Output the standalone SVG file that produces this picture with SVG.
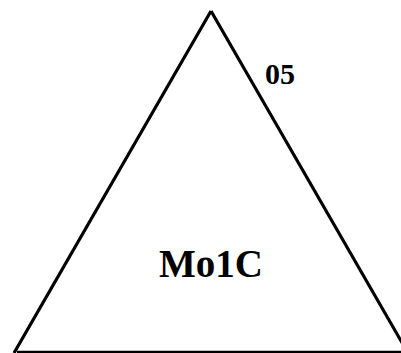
<svg xmlns="http://www.w3.org/2000/svg" width="401" height="353" viewBox="0 0 401 353">
<style>
.edge{fill:none;stroke:#000;stroke-width:3.2;stroke-linejoin:miter;stroke-linecap:butt}
.lbl{font-family:"Liberation Serif","Times New Roman",serif;font-weight:bold;fill:#000}
</style>
<rect width="401" height="353" fill="#fff"/>
<g id="connectors">
<path class="edge" d="M211,11 L14,353"/>
<path class="edge" d="M211,11 L408,353"/>
<path class="edge" d="M17,352 L401,352" style="stroke-width:2.4"/>
</g>
<g id="node-05">
<text class="lbl" x="265" y="84" font-size="30">05</text>
</g>
<g id="node-Mo1C">
<text class="lbl" x="211" y="277" font-size="39" text-anchor="middle">Mo1C</text>
</g>
</svg>
